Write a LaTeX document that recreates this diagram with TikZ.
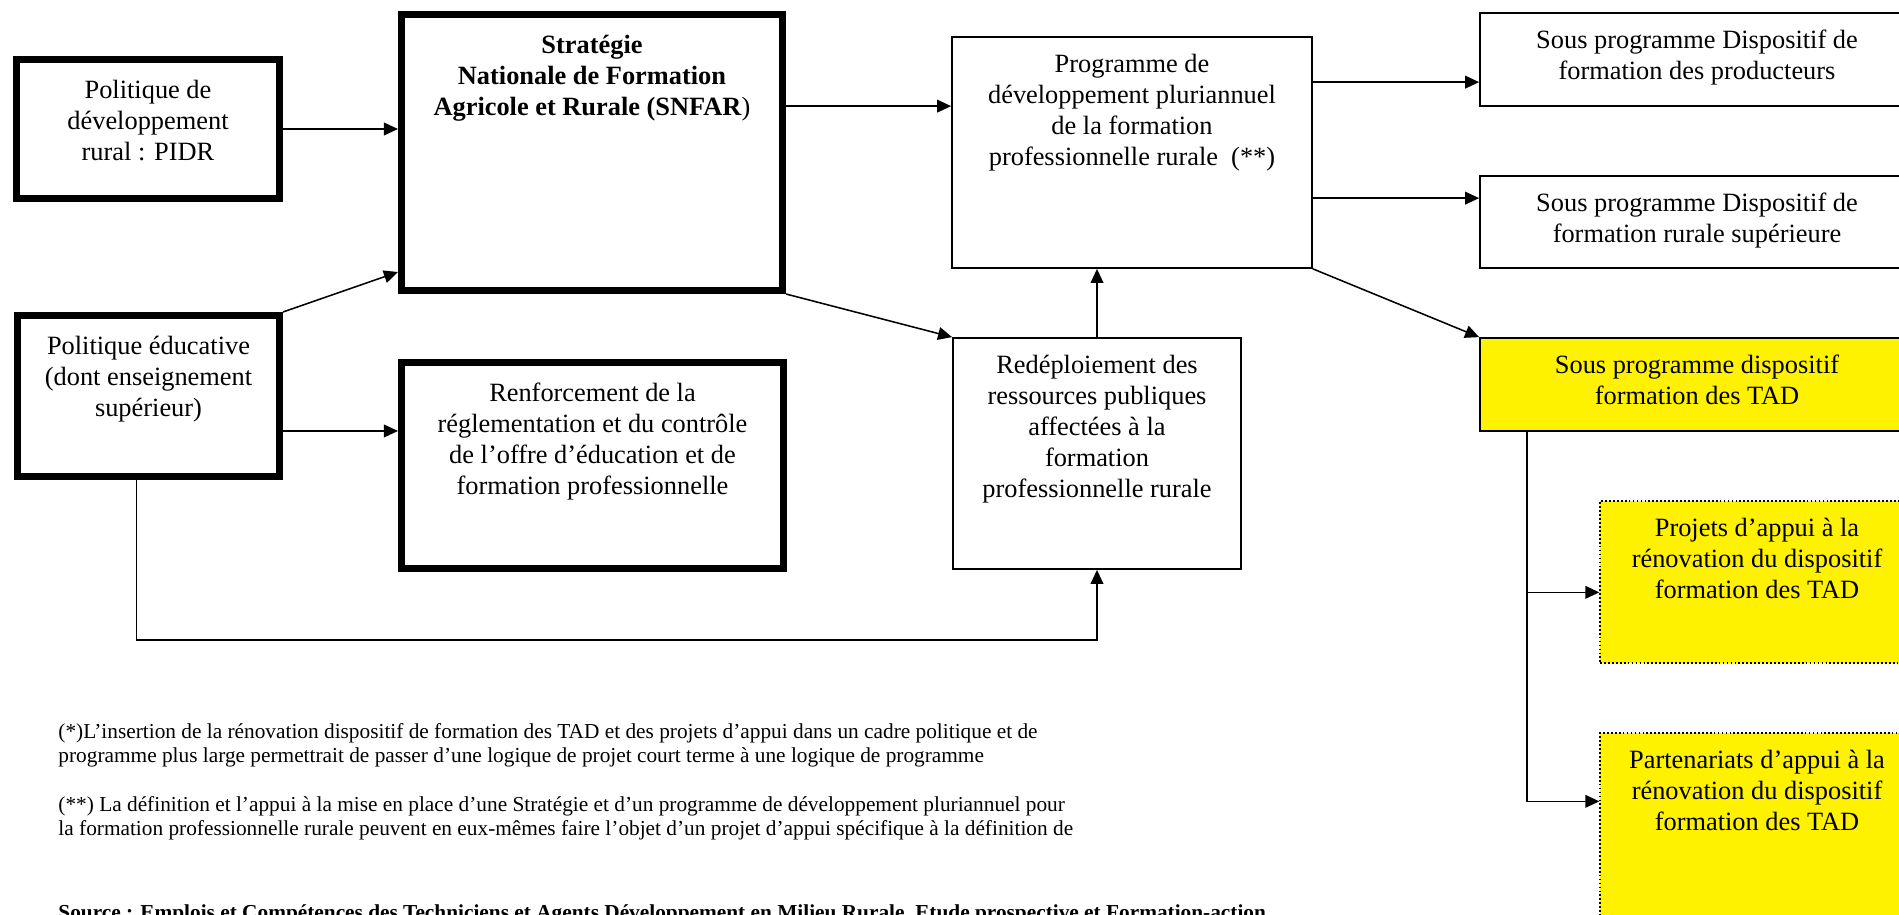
\documentclass[tikz,border=0pt]{standalone}
\usepackage{fontspec}
\setmainfont{Liberation Serif}
\usepackage{tikz}
\usetikzlibrary{positioning}
\usetikzlibrary{calc}
\usetikzlibrary{fit}
\usetikzlibrary{arrows.meta}
\tikzstyle{boite}=[draw,rectangle,inner sep=0pt,line width=0.8pt]
\tikzstyle{epaisse}=[boite,line width=3.2pt]
\tikzstyle{jaune}=[boite,fill=yellow]
\tikzstyle{pointillee}=[jaune,densely dotted,line width=0.6pt]
\tikzstyle{texte}=[anchor=north,inner sep=0pt,align=center,yshift=-8pt]
\tikzstyle{texteep}=[texte,yshift=-2.7pt]
\tikzstyle{note}=[anchor=north west,inner sep=0pt,align=left,font=\fontsize{9.7pt}{11.1pt}\selectfont]

\begin{document}
\begin{tikzpicture}
	[x=0.455pt,y=-0.455pt,font=\fontsize{12pt}{14.1pt}\selectfont]
	\tikzstyle{fleche}=[-{Triangle[length=6.4pt,width=5.8pt]},line width=0.7pt];
	\useasboundingbox (0,0) rectangle (1899,915);

	\node (pidr) [epaisse,fit={(16.5,59.5) (279.5,198.5)},label={[texteep]above:{Politique de\\développement\\rural : PIDR}}] {};
	\node (snfar) [epaisse,fit={(401.5,14.5) (782.5,290.5)},label={[texteep]above:{\textbf{Stratégie}\\\textbf{Nationale de Formation}\\\textbf{Agricole et Rurale (SNFAR})}}] {};
	\node (educ) [epaisse,fit={(17.5,315.5) (279.5,476.5)},label={[texteep]above:{Politique éducative\\(dont enseignement\\supérieur)}}] {};
	\node (renf) [epaisse,fit={(401.5,362.5) (783.5,568.5)},label={[texteep]above:{Renforcement de la\\réglementation et du contrôle\\de l’offre d’éducation et de\\formation professionnelle}}] {};
	\node (prog) [boite,fit={(952,37) (1312,268)},label={[texte]above:{Programme de\\développement pluriannuel\\de la formation\\professionnelle rurale~~(**)}}] {};
	\node (redep) [boite,fit={(953,338) (1241,569)},label={[texte]above:{Redéploiement des\\ressources publiques\\affectées à la\\formation\\professionnelle rurale}}] {};
	\node (prod) [boite,fit={(1480,13) (1914,106)},label={[texte]above:{Sous programme Dispositif de\\formation des producteurs}}] {};
	\node (sup) [boite,fit={(1480,176) (1914,268)},label={[texte]above:{Sous programme Dispositif de\\formation rurale supérieure}}] {};
	\node (tad) [jaune,fit={(1480,338) (1914,431)},label={[texte]above:{Sous programme dispositif\\formation des TAD}}] {};
	\node (projets) [pointillee,fit={(1600,501) (1914,663)},label={[texte]above:{Projets d’appui à la\\rénovation du dispositif\\formation des TAD}}] {};
	\node (part) [pointillee,fit={(1600,733) (1914,980)},label={[texte]above:{Partenariats d’appui à la\\rénovation du dispositif\\formation des TAD}}] {};

	\coordinate (a1) at ($(educ.north east)+(0,119)$);
	\coordinate (a2) at ($(snfar.south west)+(0,-22)$);
	\coordinate (a3) at ($(prog.north west)+(0,70)$);
	\coordinate (a4) at ($(prod.north west)+(0,70)$);
	\coordinate (a5) at ($(sup.north west)+(0,23)$);
	\coordinate (a6) at ($(projets.north west)+(0,92)$);
	\coordinate (a7) at ($(part.north west)+(0,69)$);
	\coordinate (a8) at ($(redep.south)+(0,70)$);

	\path[fleche]
		(pidr.east) edge (pidr.east -| snfar.west)
		(educ.north east) edge (a2)
		(a1) edge (a1 -| renf.west)
		(snfar.east |- a3) edge (a3)
		(snfar.south east) edge (redep.north west)
		(redep.north) edge (redep.north |- prog.south)
		(prog.east |- a4) edge (a4)
		(prog.east |- a5) edge (a5)
		(prog.south east) edge (tad.north west);
	\draw[fleche] ($(educ.south)+(-12,0)$) |- (a8) -- (redep.south);
	\draw[fleche] ($(tad.south west)+(48,0)$) |- (a6);
	\draw[fleche] ($(tad.south west)+(48,0)$) |- (a7);

	\node (note1) [note] at (58,723) {(*)L’insertion de la rénovation dispositif de formation des TAD et des projets d’appui dans un cadre politique et de\\programme plus large permettrait de passer d’une logique de projet court terme à une logique de programme};
	\node (note2) [note] at (58,796) {(**) La définition et l’appui à la mise en place d’une Stratégie et d’un programme de développement pluriannuel pour\\la formation professionnelle rurale peuvent en eux-mêmes faire l’objet d’un projet d’appui spécifique à la définition de};
	\node (source) [note] at (58,904) {\textbf{Source : Emplois et Compétences des Techniciens et Agents Développement en Milieu Rurale, Etude prospective et Formation-action}};
\end{tikzpicture}
\end{document}
